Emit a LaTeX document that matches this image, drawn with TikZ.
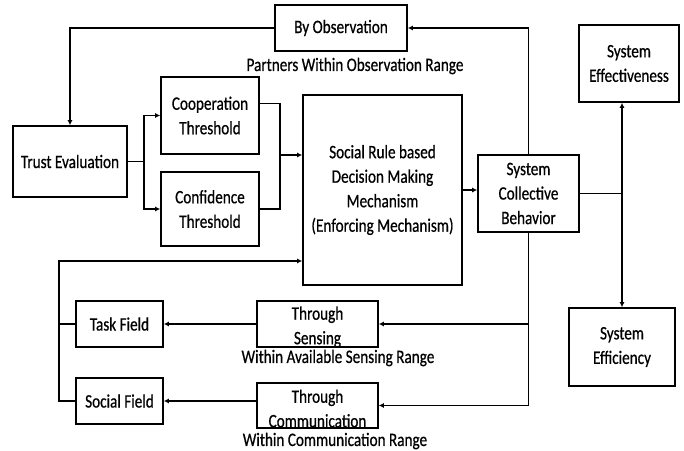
\documentclass[tikz,border=0pt]{standalone}
\usepackage{fontspec}
\setmainfont{Carlito}[FakeStretch=0.8,FakeBold=0.6]
\usepackage{tikz}
\usetikzlibrary{arrows.meta,calc}

\begin{document}
\begin{tikzpicture}[x=1pt,y=-1pt,
    box/.style={draw, line width=1.6pt, inner sep=0pt, align=center,
      font=\fontsize{19}{24.5}\selectfont},
    lbl/.style={inner sep=0pt, font=\fontsize{19}{24.5}\selectfont},
    arr/.style={line width=1.5pt, -{Latex[length=5pt,width=5pt]}},
    ln/.style={line width=1.5pt}]
  \useasboundingbox (0,0) rectangle (684,450);

  % top row
  \node[box, minimum width=132, minimum height=46] (obs) at (341,28) {By Observation};
  \node[lbl] (obslbl) at (355,66) {Partners Within Observation Range};
  \node[box, minimum width=114, minimum height=71] (trust) at (70,161.5) {Trust Evaluation};
  \node[box, minimum width=98, minimum height=77] (coop) at (210,115.5) {Cooperation\\Threshold};
  \node[box, minimum width=98, minimum height=74] (conf) at (210,209) {Confidence\\Threshold};
  \node[box, minimum width=159, minimum height=190] (rule) at (382.5,190)
    {Social Rule based\\Decision Making\\Mechanism\\(Enforcing Mechanism)};
  \node[box, minimum width=101, minimum height=77] (scb) at (528.5,193.5) {System\\Collective\\Behavior};
  \node[box, minimum width=100, minimum height=77] (eff) at (629,63.5) {System\\Effectiveness};
  \node[box, minimum width=106, minimum height=78] (effi) at (622,347) {System\\Efficiency};

  % bottom rows
  \node[box, minimum width=121, minimum height=46,
    label={[lbl, align=center, yshift=-3pt]center:Through\\Sensing}] (sens) at (317.5,324) {};
  \node[lbl] (senslbl) at (338,358) {Within Available Sensing Range};
  \node[box, minimum width=121, minimum height=45,
    label={[lbl, align=center, yshift=-3pt]center:Through\\Communication}] (comm) at (317.5,405.5) {};
  \node[lbl] (commlbl) at (335,441) {Within Communication Range};
  \node[box, minimum width=87, minimum height=46] (task) at (119.5,324) {Task Field};
  \node[box, minimum width=87, minimum height=46] (soc) at (119.5,401) {Social Field};

  \coordinate (jn) at (280,155);
  \coordinate (split) at (622,193.5);
  \coordinate (fb) at (59,261);

  \draw[arr] (scb.north) |- (obs.east);
  \draw[arr] (obs.west) -| (trust.north);
  \draw[arr] (trust.east) -- ++(16,0) |- (coop.west);
  \draw[arr] (trust.east) -- ++(16,0) |- (conf.west);
  \draw[ln] ([yshift=12pt]coop.east) -| (jn);
  \draw[ln] (conf.east) -| (jn);
  \draw[arr] (jn) -- (jn -| rule.west);
  \draw[arr] (rule.east) -- (rule.east -| scb.west);
  \draw[ln] (scb.east) -- (split);
  \draw[arr] (split) -- (split |- eff.south);
  \draw[arr] (split) -- (effi.north);
  %\draw[ln] (scb.south) -- (scb.south |- comm.east);
  \draw[arr] (scb.south) |- (comm.east);
  \draw[arr] (scb.south |- sens.east) -- (sens.east);
  \draw[arr] (sens.west) -- (task.east);
  \draw[arr] (soc.east -| comm.west) -- (soc.east);
  \draw[ln] (task.west) -- (task.west -| fb);
  \draw[arr] (soc.west) -| (fb) -- (fb -| rule.west);
\end{tikzpicture}
\end{document}
